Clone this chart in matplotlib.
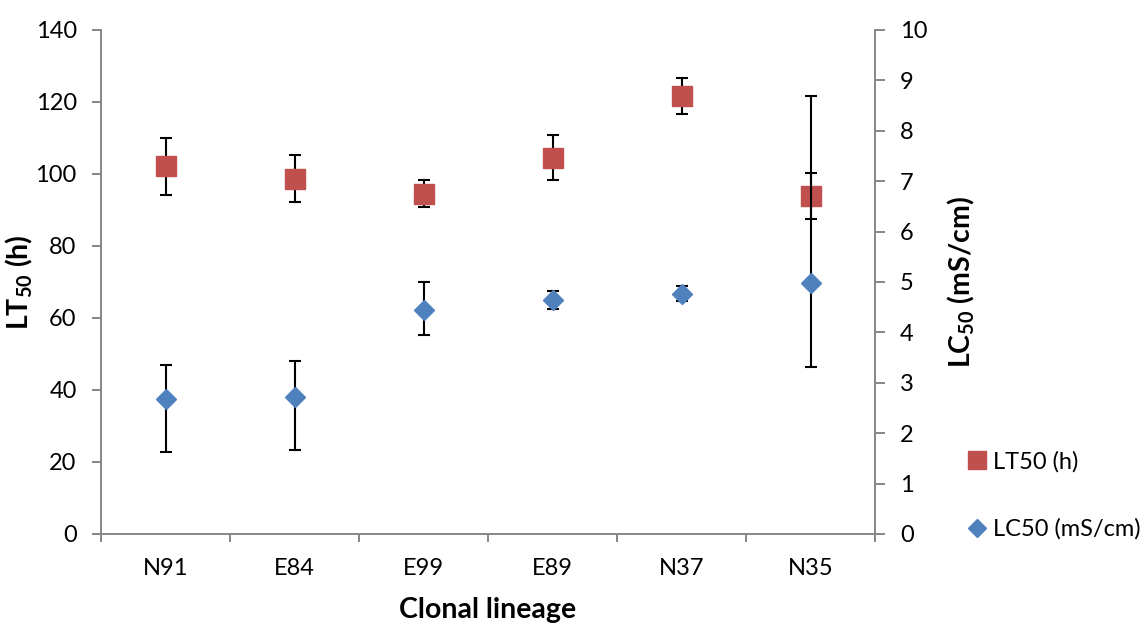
import matplotlib
matplotlib.use("Agg")
import matplotlib.pyplot as plt
from matplotlib.lines import Line2D
import numpy as np

categories = ["N91", "E84", "E99", "E89", "N37", "N35"]
lt50 = [102.1, 98.7, 94.5, 104.5, 121.6, 93.9]
lt50_err_low = [7.9, 6.4, 3.8, 6.3, 5.0, 6.4]
lt50_err_high = [7.9, 6.5, 3.8, 6.4, 5.1, 6.5]
lc50 = [2.67, 2.72, 4.44, 4.64, 4.77, 4.98]
lc50_err_low = [1.05, 1.06, 0.50, 0.17, 0.15, 1.67]
lc50_err_high = [0.69, 0.71, 0.56, 0.18, 0.16, 3.71]

left_ticks = [0, 20, 40, 60, 80, 100, 120, 140]
right_ticks = [0, 1, 2, 3, 4, 5, 6, 7, 8, 9, 10]

plt.rcParams['font.family'] = ['Lato', 'DejaVu Sans']
plt.rcParams['mathtext.fontset'] = 'custom'
plt.rcParams['mathtext.rm'] = 'Lato'
plt.rcParams['mathtext.bf'] = 'Lato:bold'

RED = '#C0504D'
BLUE = '#4F81BD'
GRAY = '#868686'
TICK_FS = 17
LABEL_FS = 20.5

W, H = 1147, 626
fig = plt.figure(figsize=(W / 100, H / 100), dpi=100)
ax = fig.add_axes([101 / W, 1 - 534 / H, 774 / W, 504 / H])
ax2 = ax.twinx()

x = np.arange(len(categories))

ax.errorbar(x, lt50, yerr=[lt50_err_low, lt50_err_high], fmt='none', ecolor='black',
            elinewidth=1.5, capsize=4.3, capthick=1.5, zorder=2)
ax.plot(x, lt50, linestyle='none', marker='s', markersize=14.6, color=RED,
        markeredgecolor=RED, zorder=3)

ax2.errorbar(x, lc50, yerr=[lc50_err_low, lc50_err_high], fmt='none', ecolor='black',
             elinewidth=1.5, capsize=4.3, capthick=1.5, zorder=2)
ax2.plot(x, lc50, linestyle='none', marker='D', markersize=10.4, color=BLUE,
         markeredgecolor=BLUE, zorder=3)

ax.set_xlim(-0.5, len(categories) - 0.5)
ax.set_ylim(0, 140)
ax2.set_ylim(0, 10)
ax.set_yticks(left_ticks)
ax2.set_yticks(right_ticks)

ax.set_xticks(x)
ax.set_xticklabels(categories)
ax.set_xticks(np.arange(-0.5, len(categories)), minor=True)
ax.tick_params(axis='x', which='major', length=0, pad=17, labelsize=TICK_FS)
ax.tick_params(axis='x', which='minor', length=6, width=1.4, color=GRAY, direction='out')
ax.tick_params(axis='y', length=6.5, width=1.4, color=GRAY, labelsize=TICK_FS, pad=11)
ax2.tick_params(axis='y', length=7, width=1.4, color=GRAY, labelsize=TICK_FS, pad=11)

for a in (ax, ax2):
    a.spines['top'].set_visible(False)
    for s in ('left', 'right', 'bottom'):
        a.spines[s].set_color(GRAY)
        a.spines[s].set_linewidth(1.4)
ax.spines['right'].set_visible(False)
ax2.spines['left'].set_visible(False)
ax2.spines['bottom'].set_visible(False)

ax.set_xlabel('Clonal lineage', fontsize=LABEL_FS, fontweight='bold', labelpad=13)
ax.set_ylabel(r'LT$_{\mathbf{50}}$ (h)', fontsize=LABEL_FS, fontweight='bold', labelpad=0.5)
ax2.set_ylabel(r'LC$_{\mathbf{50}}$ (mS/cm)', fontsize=LABEL_FS, fontweight='bold', labelpad=13)

handles = [
    Line2D([], [], linestyle='none', marker='s', markersize=13, color=RED),
    Line2D([], [], linestyle='none', marker='D', markersize=9.2, color=BLUE),
]
fig.legend(handles, ['LT50 (h)', 'LC50 (mS/cm)'], loc='upper left',
           bbox_to_anchor=(966 / W, 1 - 451 / H), frameon=False, fontsize=TICK_FS,
           labelspacing=1.95, handlelength=0.9, handletextpad=0.25, borderaxespad=0,
           borderpad=0)

fig.savefig('out.png', dpi=100)
